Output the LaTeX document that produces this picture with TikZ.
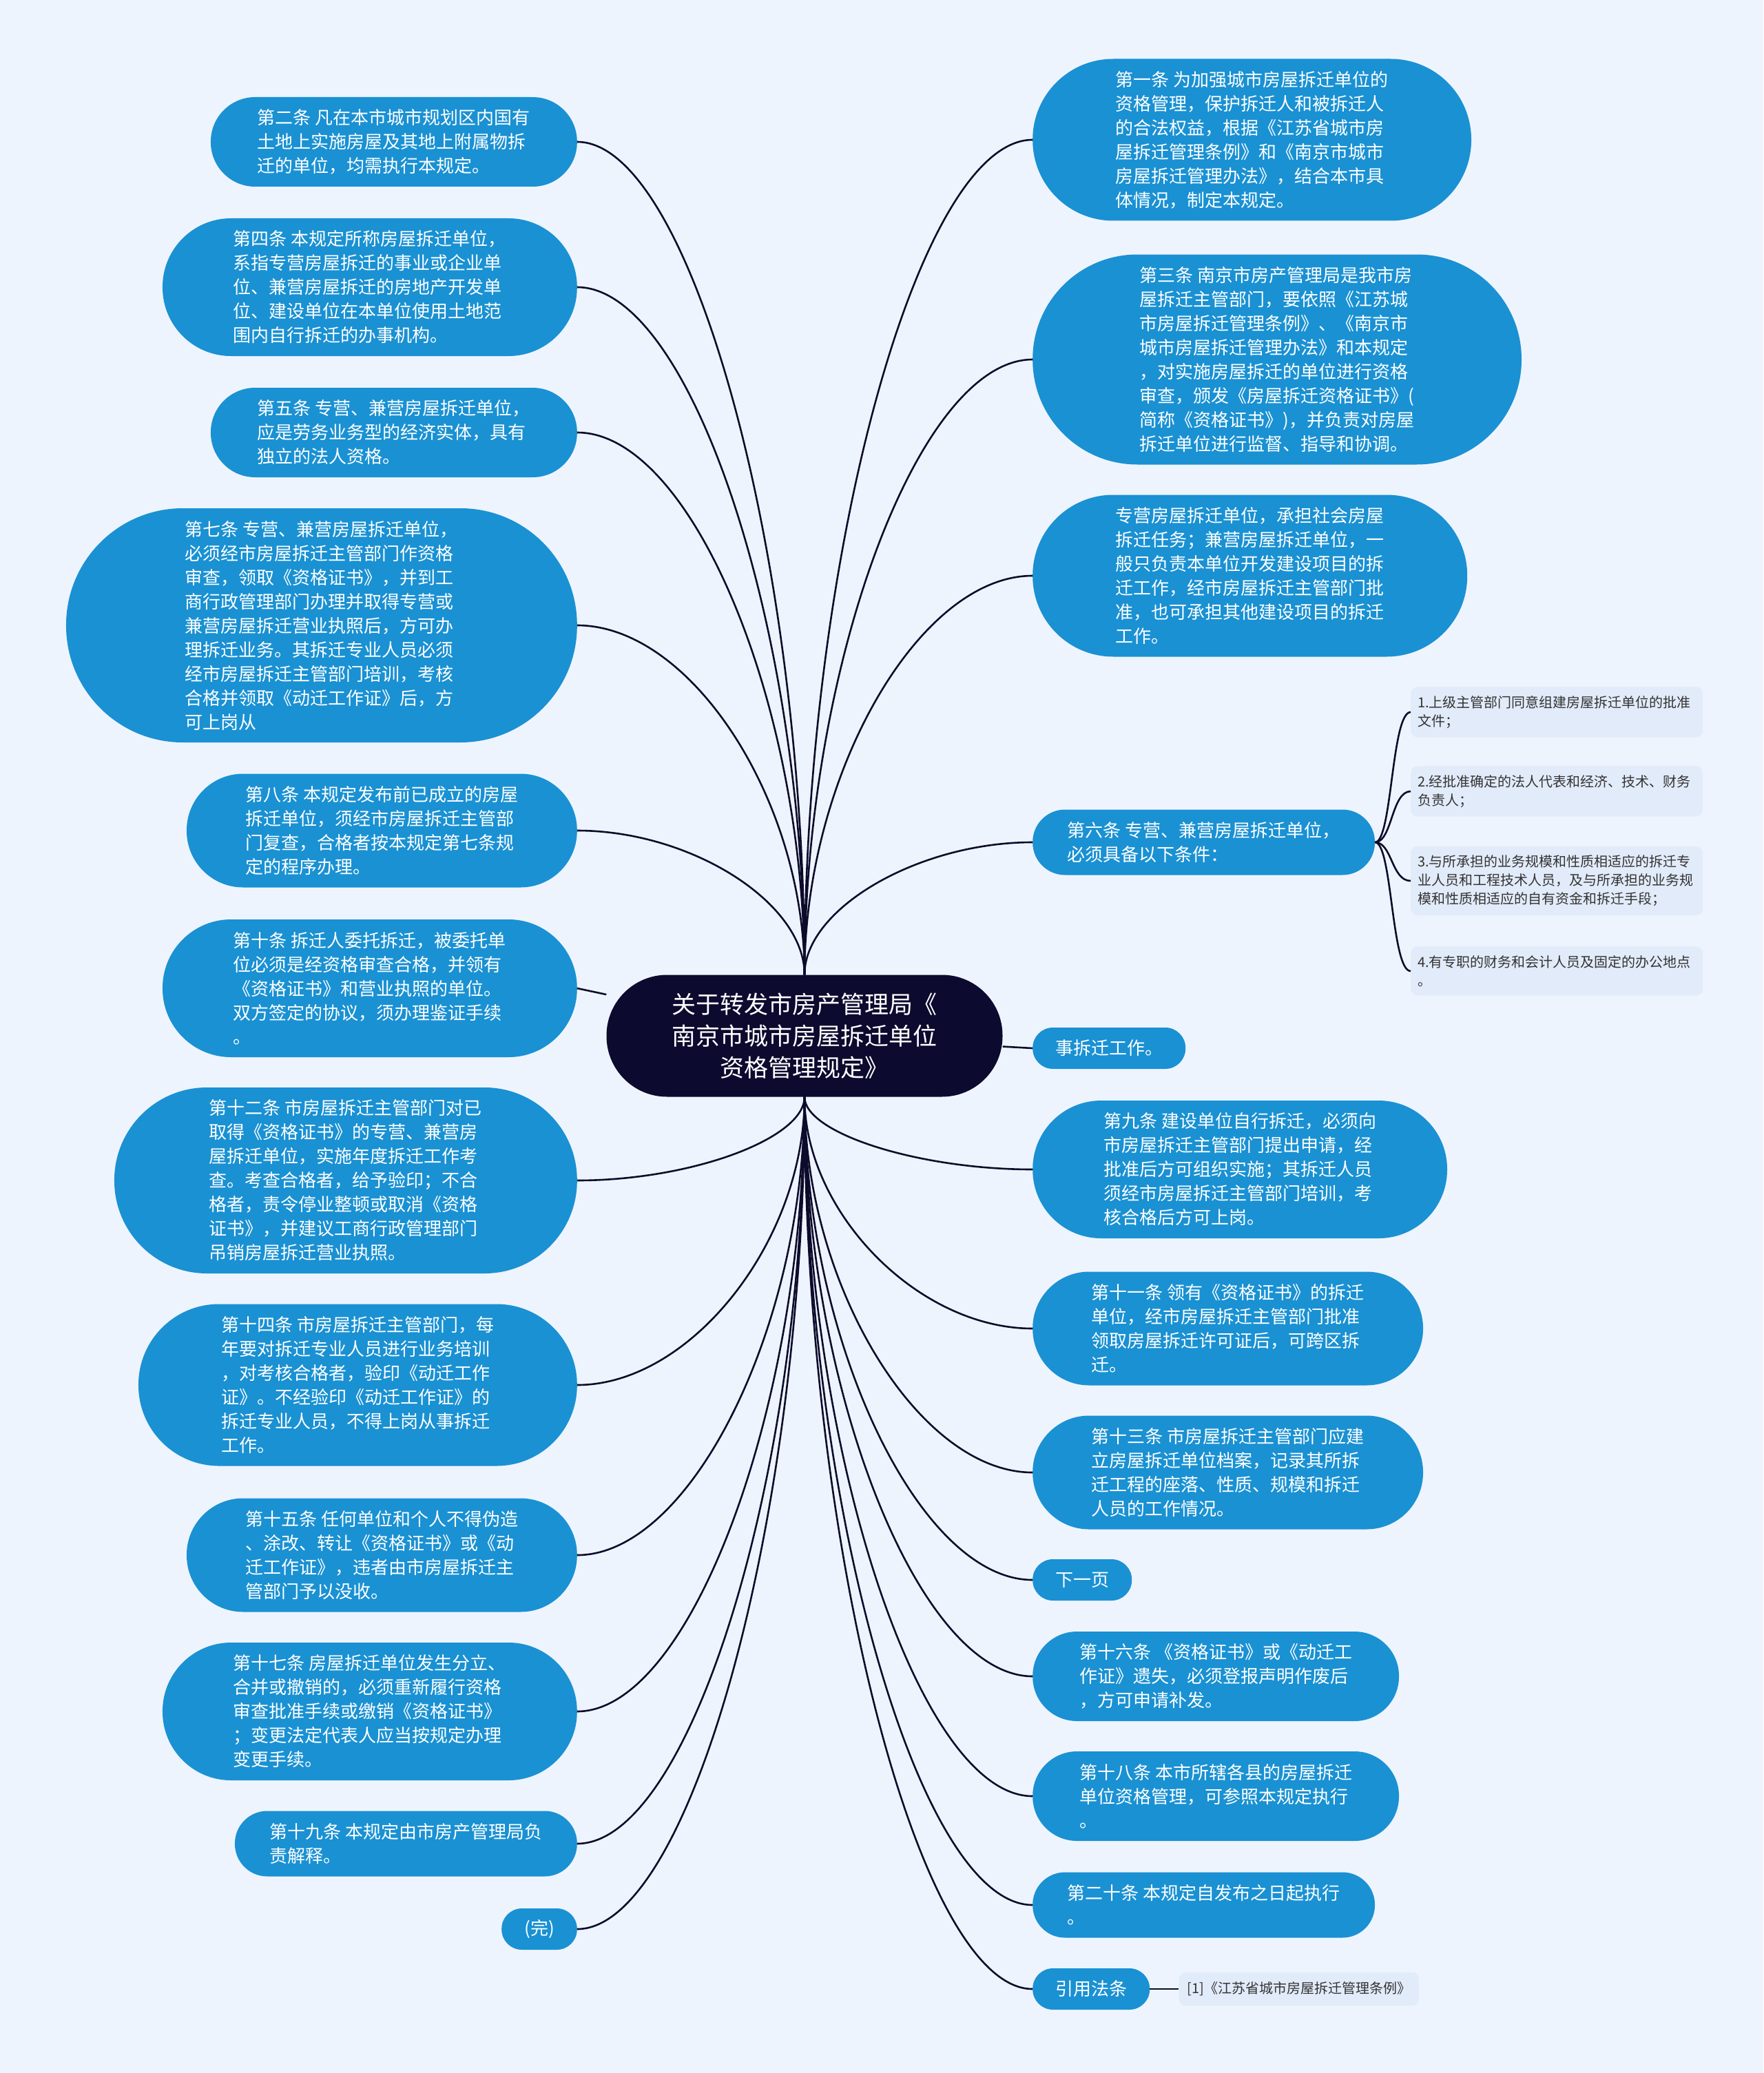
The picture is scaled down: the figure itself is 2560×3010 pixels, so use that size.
\documentclass[tikz,border=0pt]{standalone}
\usepackage{fontspec}
\setmainfont{Noto Sans CJK SC}
\usetikzlibrary{positioning, calc}

\definecolor{pagebg}{HTML}{EEF4FD}
\definecolor{leafblue}{HTML}{1A91D3}
\definecolor{rootnavy}{HTML}{0C0A2E}
\definecolor{linecol}{HTML}{0D0B2B}
\definecolor{notefill}{HTML}{E2EBF9}
\definecolor{notetext}{HTML}{333333}

\begin{document}
\begin{tikzpicture}[
  x=1pt, y=-1pt,
  topic/.style={rectangle, fill=rootnavy, text=white, align=center,
    minimum height=177pt, rounded corners=88pt, inner xsep=95pt, inner ysep=8pt,
    font=\fontsize{35}{46}\selectfont},
  % #1 = number of text lines
  clause/.style={rectangle, fill=leafblue, text=white, align=left,
    minimum height=25+35*#1, rounded corners=12+17.5*#1, inner xsep=15.5+17.5*#1,
    inner ysep=6pt, font=\fontsize{26}{35}\selectfont},
  note/.style={rectangle, rounded corners=10pt, fill=notefill, text=notetext,
    align=left, inner xsep=10pt, inner ysep=13pt, font=\fontsize{20}{27}\selectfont},
  cond/.style={note, text width=404pt},
  link/.style={draw=linecol, line width=2.6pt}
]

\useasboundingbox (0,0) rectangle (2560,3010);
\fill[pagebg] (0,0) rectangle (2560,3010);

% Root
\node[topic] (root) at (1168,1504) {关于转发市房产管理局《\\南京市城市房屋拆迁单位\\资格管理规定》};

% Left column
\node[clause=3, anchor=east] (L1) at (838,206) {第二条 凡在本市城市规划区内国有\\土地上实施房屋及其地上附属物拆\\迁的单位，均需执行本规定。};
\node[clause=5, anchor=east] (L2) at (838,417) {第四条 本规定所称房屋拆迁单位，\\系指专营房屋拆迁的事业或企业单\\位、兼营房屋拆迁的房地产开发单\\位、建设单位在本单位使用土地范\\围内自行拆迁的办事机构。};
\node[clause=3, anchor=east] (L3) at (838,628) {第五条 专营、兼营房屋拆迁单位，\\应是劳务业务型的经济实体，具有\\独立的法人资格。};
\node[clause=9, anchor=east] (L4) at (838,908) {第七条 专营、兼营房屋拆迁单位，\\必须经市房屋拆迁主管部门作资格\\审查，领取《资格证书》，并到工\\商行政管理部门办理并取得专营或\\兼营房屋拆迁营业执照后，方可办\\理拆迁业务。其拆迁专业人员必须\\经市房屋拆迁主管部门培训，考核\\合格并领取《动迁工作证》后，方\\可上岗从};
\node[clause=4, anchor=east] (L5) at (838,1206) {第八条 本规定发布前已成立的房屋\\拆迁单位，须经市房屋拆迁主管部\\门复查，合格者按本规定第七条规\\定的程序办理。};
\node[clause=5, anchor=east] (L6) at (838,1435) {第十条 拆迁人委托拆迁，被委托单\\位必须是经资格审查合格，并领有\\《资格证书》和营业执照的单位。\\双方签定的协议，须办理鉴证手续\\。};
\node[clause=7, anchor=east] (L7) at (838,1714) {第十二条 市房屋拆迁主管部门对已\\取得《资格证书》的专营、兼营房\\屋拆迁单位，实施年度拆迁工作考\\查。考查合格者，给予验印；不合\\格者，责令停业整顿或取消《资格\\证书》，并建议工商行政管理部门\\吊销房屋拆迁营业执照。};
\node[clause=6, anchor=east] (L8) at (838,2011) {第十四条 市房屋拆迁主管部门，每\\年要对拆迁专业人员进行业务培训\\，对考核合格者，验印《动迁工作\\证》。不经验印《动迁工作证》的\\拆迁专业人员，不得上岗从事拆迁\\工作。};
\node[clause=4, anchor=east] (L9) at (838,2258) {第十五条 任何单位和个人不得伪造\\、涂改、转让《资格证书》或《动\\迁工作证》，违者由市房屋拆迁主\\管部门予以没收。};
\node[clause=5, anchor=east] (L10) at (838,2485) {第十七条 房屋拆迁单位发生分立、\\合并或撤销的，必须重新履行资格\\审查批准手续或缴销《资格证书》\\；变更法定代表人应当按规定办理\\变更手续。};
\node[clause=2, anchor=east] (L11) at (838,2677) {第十九条 本规定由市房产管理局负\\责解释。};
\node[clause=1, anchor=east] (L12) at (838,2801) {(完)};

% Right column
\node[clause=6, anchor=west] (R1) at (1499,203) {第一条 为加强城市房屋拆迁单位的\\资格管理，保护拆迁人和被拆迁人\\的合法权益，根据《江苏省城市房\\屋拆迁管理条例》和《南京市城市\\房屋拆迁管理办法》，结合本市具\\体情况，制定本规定。};
\node[clause=8, anchor=west] (R2) at (1499,522) {第三条 南京市房产管理局是我市房\\屋拆迁主管部门，要依照《江苏城\\市房屋拆迁管理条例》、《南京市\\城市房屋拆迁管理办法》和本规定\\，对实施房屋拆迁的单位进行资格\\审查，颁发《房屋拆迁资格证书》(\\简称《资格证书》)，并负责对房屋\\拆迁单位进行监督、指导和协调。};
\node[clause=6, anchor=west] (R3) at (1499,836) {专营房屋拆迁单位，承担社会房屋\\拆迁任务；兼营房屋拆迁单位，一\\般只负责本单位开发建设项目的拆\\迁工作，经市房屋拆迁主管部门批\\准，也可承担其他建设项目的拆迁\\工作。};
\node[clause=2, anchor=west] (R4) at (1499,1223) {第六条 专营、兼营房屋拆迁单位，\\必须具备以下条件：};
\node[clause=1, anchor=west] (R5) at (1499,1522) {事拆迁工作。};
\node[clause=5, anchor=west] (R6) at (1499,1698) {第九条 建设单位自行拆迁，必须向\\市房屋拆迁主管部门提出申请，经\\批准后方可组织实施；其拆迁人员\\须经市房屋拆迁主管部门培训，考\\核合格后方可上岗。};
\node[clause=4, anchor=west] (R7) at (1499,1929) {第十一条 领有《资格证书》的拆迁\\单位，经市房屋拆迁主管部门批准\\领取房屋拆迁许可证后，可跨区拆\\迁。};
\node[clause=4, anchor=west] (R8) at (1499,2138) {第十三条 市房屋拆迁主管部门应建\\立房屋拆迁单位档案，记录其所拆\\迁工程的座落、性质、规模和拆迁\\人员的工作情况。};
\node[clause=1, anchor=west] (R9) at (1499,2294) {下一页};
\node[clause=3, anchor=west] (R10) at (1499,2434) {第十六条 《资格证书》或《动迁工\\作证》遗失，必须登报声明作废后\\，方可申请补发。};
\node[clause=3, anchor=west] (R11) at (1499,2608) {第十八条 本市所辖各县的房屋拆迁\\单位资格管理，可参照本规定执行\\。};
\node[clause=2, anchor=west] (R12) at (1499,2766) {第二十条 本规定自发布之日起执行\\。};
\node[clause=1, anchor=west] (R13) at (1499,2888) {引用法条};

% Conditions of 第六条
\node[cond, anchor=west] (C1) at (2048,1034) {1.上级主管部门同意组建房屋拆迁单位的批准\\文件；};
\node[cond, anchor=west] (C2) at (2048,1149) {2.经批准确定的法人代表和经济、技术、财务\\负责人；};
\node[cond, anchor=west] (C3) at (2048,1279) {3.与所承担的业务规模和性质相适应的拆迁专\\业人员和工程技术人员，及与所承担的业务规\\模和性质相适应的自有资金和拆迁手段；};
\node[cond, anchor=west] (C4) at (2048,1410) {4.有专职的财务和会计人员及固定的办公地点\\。};

% Cited law
\node[note, inner xsep=12pt, inner ysep=14pt, right=42pt of R13] (cite) {[1]《江苏省城市房屋拆迁管理条例》};

% Links from root
\foreach \c in {L1, L2, L3, L4, L5} {
  \coordinate (k) at (root.north |- \c.east);
  \draw[link] (root.north) .. controls ($(root.north)!0.5!(k)$) and ($(\c.east)!0.5!(k)$) .. (\c.east);
}
\foreach \c in {L7, L8, L9, L10, L11, L12} {
  \coordinate (k) at (root.south |- \c.east);
  \draw[link] (root.south) .. controls ($(root.south)!0.5!(k)$) and ($(\c.east)!0.5!(k)$) .. (\c.east);
}
\foreach \c in {R1, R2, R3, R4} {
  \coordinate (k) at (root.north |- \c.west);
  \draw[link] (root.north) .. controls ($(root.north)!0.5!(k)$) and ($(\c.west)!0.5!(k)$) .. (\c.west);
}
\foreach \c in {R6, R7, R8, R9, R10, R11, R12, R13} {
  \coordinate (k) at (root.south |- \c.west);
  \draw[link] (root.south) .. controls ($(root.south)!0.5!(k)$) and ($(\c.west)!0.5!(k)$) .. (\c.west);
}
\draw[link] (root) -- (L6.east);
\draw[link] (root) -- (R5.west);

% Bracket to conditions
\foreach \c in {C1, C2, C3, C4} {
  \draw[link] (R4.east) .. controls +(25,0) and +(-28,0) .. (\c.west);
}
\draw[link] (R13) -- (cite);

\end{tikzpicture}
\end{document}
